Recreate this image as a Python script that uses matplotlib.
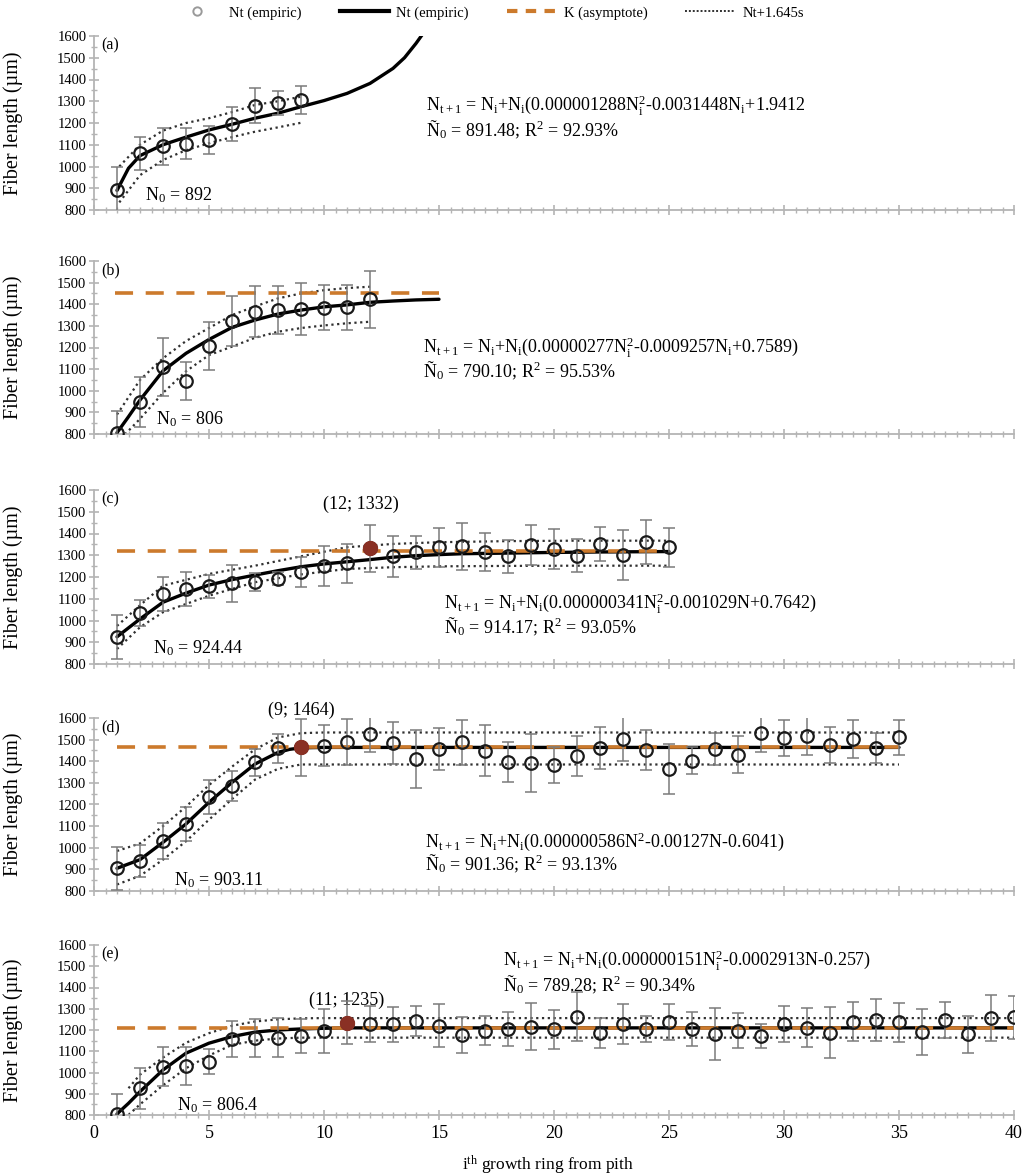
import matplotlib
matplotlib.use('Agg')
import matplotlib.pyplot as plt
from matplotlib.lines import Line2D

plt.rcParams['font.family'] = ['Liberation Serif', 'DejaVu Serif']
plt.rcParams['mathtext.default'] = 'regular'

# ---- data ----
# (a)
vals_a = [890, 1061, 1094, 1105, 1122, 1195, 1280, 1290, 1305]
err_a = [110, 75, 85, 70, 65, 78, 80, 55, 65]
fit_a_x = [1, 1.5, 2, 3, 4, 5, 6, 7, 8, 9, 10, 11, 12, 13, 13.5, 14, 14.5]
fit_a_y = [890, 992, 1050, 1100, 1135, 1168, 1194, 1222, 1245, 1275, 1303, 1336, 1382, 1451, 1500, 1566, 1640]
band_a_x = [1.1, 2, 3, 4, 5, 6, 7, 8, 9]
band_a_hi = [1000, 1100, 1165, 1200, 1222, 1250, 1283, 1300, 1321]
band_a_lo = [835, 960, 1030, 1075, 1107, 1135, 1160, 1180, 1201]

# (b)
vals_b = [806, 947, 1111, 1045, 1207, 1324, 1366, 1373, 1378, 1384, 1386, 1424]
err_b = [100, 115, 135, 90, 110, 115, 118, 110, 118, 105, 103, 132]
fit_b_x = [1, 1.5, 2, 3, 4, 5, 6, 7, 8, 9, 10, 11, 12, 13, 14, 15]
fit_b_y = [806, 880, 957, 1092, 1173, 1237, 1293, 1327, 1355, 1373, 1388, 1397, 1409, 1415, 1420, 1423]
band_b_x = [1, 2, 3, 4, 5, 6, 7, 8, 9, 10, 11, 12]
band_b_hi = [890, 1050, 1150, 1230, 1290, 1350, 1390, 1427, 1450, 1465, 1475, 1481]
band_b_lo = [760, 870, 990, 1090, 1165, 1204, 1245, 1273, 1290, 1302, 1312, 1319]
k_b = 1450
k_b_x = [0.9, 15]

# (c)
vals_c = [925, 1034, 1122, 1145, 1157, 1172, 1178, 1191, 1222, 1249, 1263, 1332, 1295,
          1314, 1337, 1341, 1314, 1295, 1347, 1329, 1298, 1352, 1301, 1360, 1337]
err_c = [100, 60, 78, 80, 52, 85, 42, 30, 70, 92, 90, 108, 95,
         75, 90, 107, 87, 77, 90, 90, 77, 77, 115, 100, 90]
fit_c_x = [1, 2, 3, 4, 5, 6, 7, 8, 9, 10, 11, 12, 13, 14, 15, 16, 18, 20, 22, 25]
fit_c_y = [925, 1007, 1084, 1126, 1163, 1188, 1209, 1229, 1247, 1260, 1270, 1280, 1291,
           1298, 1303, 1307, 1310, 1313, 1315, 1317]
band_c_x = [1, 2, 3, 5, 7, 9, 11, 13, 15, 18, 21, 25]
band_c_hi = [975, 1070, 1160, 1214, 1252, 1295, 1337, 1352, 1360, 1365, 1367, 1367]
band_c_lo = [869, 969, 1038, 1114, 1176, 1212, 1237, 1245, 1249, 1251, 1252, 1252]
k_c = 1320
k_c_x = [1, 25]
peak_c = 12

# (d)
vals_d = [905, 940, 1032, 1110, 1235, 1285, 1395, 1460, 1464, 1472, 1490, 1526, 1484, 1410,
          1457, 1487, 1449, 1398, 1392, 1383, 1426, 1460, 1503, 1452, 1364, 1402, 1456, 1430,
          1529, 1507, 1518, 1476, 1503, 1460, 1510]
err_d = [100, 75, 83, 80, 78, 70, 62, 67, 130, 95, 106, 81, 98, 134, 97, 106, 119, 92, 134,
         82, 92, 97, 100, 92, 115, 62, 75, 85, 88, 85, 87, 83, 88, 70, 83]
fit_d_x = [1, 2, 3, 4, 5, 6, 7, 8, 8.5, 9, 10, 35]
fit_d_y = [905, 945, 1025, 1110, 1210, 1302, 1387, 1441, 1455, 1462, 1464, 1464]
band_d_x = [1, 2, 3, 4, 5, 6, 7, 8, 9, 10, 35]
band_d_hi = [985, 1020, 1100, 1190, 1290, 1375, 1455, 1510, 1530, 1533, 1533]
band_d_lo = [830, 870, 945, 1030, 1130, 1225, 1315, 1365, 1385, 1385, 1385]
k_d = 1464
k_d_x = [1, 35]
peak_d = 9

# (e)
vals_e = [804, 926, 1028, 1031, 1051, 1158, 1162, 1164, 1172, 1196, 1235, 1229, 1227, 1243,
          1221, 1177, 1197, 1204, 1216, 1204, 1263, 1185, 1227, 1205, 1237, 1205, 1180, 1196,
          1172, 1229, 1211, 1188, 1240, 1248, 1237, 1190, 1248, 1180, 1256, 1259]
err_e = [95, 97, 90, 90, 58, 83, 88, 92, 81, 103, 100, 86, 82, 72, 100, 83, 68, 80, 110, 92,
         117, 72, 95, 63, 86, 82, 122, 82, 55, 86, 92, 118, 92, 100, 92, 107, 86, 88, 110, 102]
fit_e_x = [1, 1.5, 2, 3, 4, 5, 6, 7, 8, 9, 10, 11, 40]
fit_e_y = [805, 855, 910, 1012, 1091, 1138, 1169, 1190, 1200, 1205, 1208, 1210, 1210]
band_e_x = [1.5, 2, 3, 4, 5, 6, 7, 8, 9, 10, 40]
band_e_hi = [926, 990, 1070, 1140, 1185, 1220, 1240, 1250, 1255, 1256, 1256]
band_e_lo = [800, 850, 940, 1020, 1080, 1130, 1150, 1160, 1164, 1164, 1164]
k_e = 1210
k_e_x = [1, 40]
peak_e = 11

y_ticks = [800, 900, 1000, 1100, 1200, 1300, 1400, 1500, 1600]
x_ticks = [0, 5, 10, 15, 20, 25, 30, 35, 40]

ORANGE = '#cc7a2c'
PEAK = '#8a3024'
GRAY = '#b4b4b4'

fig = plt.figure(figsize=(10.24, 11.75), dpi=100)

# axes boxes in figure pixels: (top of 1600, bottom at 800)
boxes = [(36, 210), (261, 434), (490, 664), (718, 891), (945, 1115)]
axes = []
for top, bot in boxes:
    ax = fig.add_axes([94 / 1024, 1 - bot / 1175, 920 / 1024, (bot - top) / 1175])
    axes.append(ax)


def style(ax, show_x):
    ax.set_xlim(0, 40)
    ax.set_ylim(800, 1600)
    for s in ['top', 'right']:
        ax.spines[s].set_visible(False)
    for s in ['left', 'bottom']:
        ax.spines[s].set_color(GRAY)
        ax.spines[s].set_linewidth(1.3)
    ax.set_yticks(y_ticks)
    ax.set_yticks([v + 50 for v in y_ticks[:-1]], minor=True)
    ax.set_xticks(x_ticks)
    ax.set_xticks([v / 2 for v in range(81)], minor=True)
    ax.tick_params(which='major', direction='inout', length=7, width=1.2, color=GRAY,
                   labelsize=10.5, pad=2)
    ax.tick_params(axis='x', labelsize=13, pad=4)
    ax.tick_params(which='minor', direction='inout', length=4, width=1, color=GRAY)
    if not show_x:
        ax.tick_params(axis='x', labelbottom=False)
    ax.set_ylabel('Fiber length (µm)', fontsize=14.5)
    ax.yaxis.set_label_coords(-0.077, 0.5)


def draw(ax, vals, err, fx, fy, bx, bhi, blo, k=None, kx=None, peak=None):
    rings = list(range(1, len(vals) + 1))
    ax.plot(bx, bhi, linestyle=(0, (1, 1.6)), color='#303030', lw=1.6, zorder=2)
    ax.plot(bx, blo, linestyle=(0, (1, 1.6)), color='#303030', lw=1.6, zorder=2)
    ax.plot(fx, fy, color='black', lw=2.4, zorder=3, solid_capstyle='round')
    if k is not None:
        ax.plot(kx, [k, k], color=ORANGE, lw=2.6, dashes=(5, 3.5), zorder=4)
    ax.errorbar(rings, vals, yerr=err, fmt='none', ecolor='#7a7a7a', elinewidth=1.1,
                capsize=4, capthick=1.1, zorder=5)
    ax.plot(rings, vals, 'o', ms=9, mfc='none', mec='#1a1a1a', mew=1.6, zorder=6)
    if peak is not None:
        ax.plot([peak], [vals[peak - 1]], 'o', ms=10, color=PEAK, zorder=7)


draw(axes[0], vals_a, err_a, fit_a_x, fit_a_y, band_a_x, band_a_hi, band_a_lo)
draw(axes[1], vals_b, err_b, fit_b_x, fit_b_y, band_b_x, band_b_hi, band_b_lo, k_b, k_b_x)
draw(axes[2], vals_c, err_c, fit_c_x, fit_c_y, band_c_x, band_c_hi, band_c_lo, k_c, k_c_x, peak_c)
draw(axes[3], vals_d, err_d, fit_d_x, fit_d_y, band_d_x, band_d_hi, band_d_lo, k_d, k_d_x, peak_d)
draw(axes[4], vals_e, err_e, fit_e_x, fit_e_y, band_e_x, band_e_hi, band_e_lo, k_e, k_e_x, peak_e)

for i, ax in enumerate(axes):
    style(ax, i == 4)

fs = 13
labels = ['(a)', '(b)', '(c)', '(d)', '(e)']
for ax, lab in zip(axes, labels):
    ax.text(0.3, 1555, lab, fontsize=11.5, va='center', ha='left')

# N0 labels
axes[0].text(2.2, 866, 'N$_0$ = 892', fontsize=fs, va='center')
axes[1].text(2.7, 869, 'N$_0$ = 806', fontsize=fs, va='center')
axes[2].text(2.55, 874, 'N$_0$ = 924.44', fontsize=fs, va='center')
axes[3].text(3.5, 851, 'N$_0$ = 903.11', fontsize=fs, va='center')
axes[4].text(3.6, 847, 'N$_0$ = 806.4', fontsize=fs, va='center')

# peak labels
axes[2].text(11.6, 1535, '(12; 1332)', fontsize=fs, va='center', ha='center')
axes[3].text(9.0, 1634, '(9; 1464)', fontsize=fs, va='center', ha='center', clip_on=False)
axes[4].text(11.0, 1338, '(11; 1235)', fontsize=fs, va='center', ha='center')

# model equations
eqs = [
    (14.45, 1283, 1168, 'N$_{t+1}$ = N$_i$+N$_i$(0.000001288N$_i^2$-0.0031448N$_i$+1.9412',
     'Ñ$_0$ = 891.48; R$^2$ = 92.93%'),
    (14.3, 1204, 1094, 'N$_{t+1}$ = N$_i$+N$_i$(0.00000277N$_i^2$-0.0009257N$_i$+0.7589)',
     'Ñ$_0$ = 790.10; R$^2$ = 95.53%'),
    (15.2, 1082, 972, 'N$_{t+1}$ = N$_i$+N$_i$(0.000000341N$_i^2$-0.001029N+0.7642)',
     'Ñ$_0$ = 914.17; R$^2$ = 93.05%'),
    (14.4, 1028, 928, 'N$_{t+1}$ = N$_i$+N$_i$(0.000000586N$^2$-0.00127N-0.6041)',
     'Ñ$_0$ = 901.36; R$^2$ = 93.13%'),
    (17.8, 1529, 1412, 'N$_{t+1}$ = N$_i$+N$_i$(0.000000151N$_i^2$-0.0002913N-0.257)',
     'Ñ$_0$ = 789.28; R$^2$ = 90.34%'),
]
for ax, (x0, y1, y2, l1, l2) in zip(axes, eqs):
    ax.text(x0, y1, l1, fontsize=fs, va='center', ha='left')
    ax.text(x0, y2, l2, fontsize=fs, va='center', ha='left')

fig.text(548 / 1024, 1 - 1165 / 1175, 'i$^{th}$ growth ring from pith', fontsize=12.5,
         ha='center', va='center')

handles = [
    Line2D([], [], marker='o', ls='none', ms=6, mfc='none', mec='#9a9a9a', mew=1.4),
    Line2D([], [], color='black', lw=3),
    Line2D([], [], color=ORANGE, lw=3, dashes=(2.5, 2)),
    Line2D([], [], color='#303030', lw=1.4, linestyle=(0, (1, 1))),
]
fig.legend(handles, ['Nt (empiric)', 'Nt (empiric)', 'K (asymptote)', 'Nt+1.645s'],
           loc='center', bbox_to_anchor=(488 / 1024, 1 - 13 / 1175), ncol=4, frameon=False,
           fontsize=10.5, handlelength=3.4, columnspacing=2.6, handletextpad=0.5,
           borderaxespad=0)

fig.savefig('out.png', dpi=100)
